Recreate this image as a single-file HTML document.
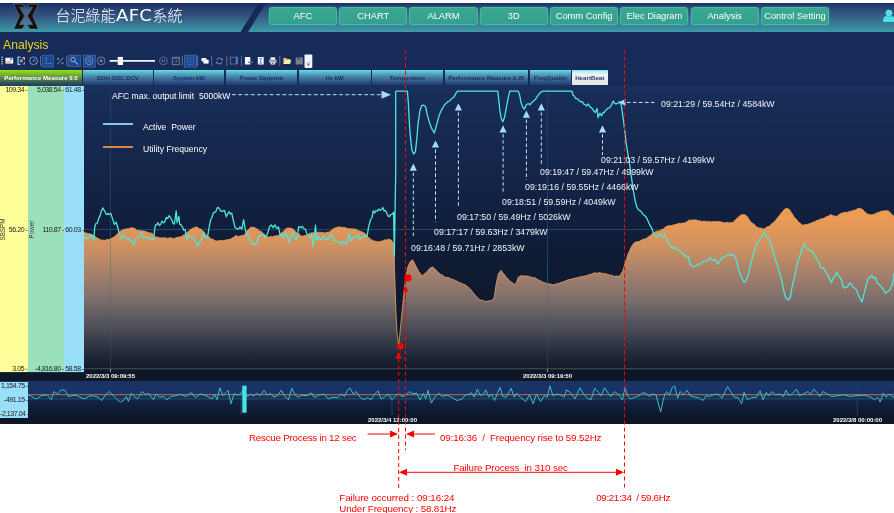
<!DOCTYPE html>
<html><head><meta charset="utf-8"><title>台泥綠能AFC系統</title>
<style>
html,body{margin:0;padding:0;background:#fff}
body{width:894px;height:513px;position:relative;overflow:hidden;font-family:"Liberation Sans", sans-serif}
div{position:absolute;box-sizing:border-box;white-space:nowrap}
#app{left:0;top:3px;width:894px;height:420.5px;background:#162b58}
#hdr{left:0;top:0;width:894px;height:29px;background:linear-gradient(#1a2c60 0%,#24396b 12%,#33547f 45%,#398099 80%,#3a9aa8 100%)}
#hdr2{left:244px;top:0;width:650px;height:29px;background:linear-gradient(#1c3062 0%,#2a4473 14%,#376188 48%,#3a869d 82%,#3b9ca9 100%);clip-path:polygon(19px 0,100% 0,100% 100%,0 100%)}
#slant{left:240px;top:0;width:27px;height:29px;background:#162a58;clip-path:polygon(18.5px 0,26px 0,8px 100%,0.5px 100%)}
#title{left:55.5px;top:1.3px;height:24px;line-height:24px;color:#fff;font-size:15px;font-weight:300;font-family:"Liberation Sans","Noto Sans CJK TC",sans-serif;letter-spacing:0}
#title b{display:inline-block;font-weight:400;font-family:"DejaVu Sans","Liberation Sans",sans-serif;font-size:15.5px;line-height:20px;letter-spacing:0.2px;margin-left:0.8px;margin-right:5.3px;transform:scaleX(1.17);transform-origin:left center}
.nav{top:4px;width:68.2px;height:18px;line-height:16px;text-align:center;color:#fff;font-size:9.3px;background:linear-gradient(#39a792,#34a08d);border:1px solid #48b9a3;border-radius:2.5px;box-shadow:0 0 2.5px rgba(70,200,180,.45)}
#ana{left:3px;top:33.5px;color:#ecd61c;font-size:12.2px;line-height:16px}
.tab{top:66.5px;height:16.1px;line-height:16px;text-align:center;font-size:6px;font-weight:bold;color:#1a2f5e;background:linear-gradient(#66e0ea 0%,#5cc4d6 10%,#4f9ab8 30%,#3f6f9a 55%,#2a4c7c 80%,#1e3866 100%)}
.tab.act{color:#fff;font-size:6.05px;background:linear-gradient(#90e21a 0%,#84cf22 12%,#6aa63a 35%,#4d7a4c 60%,#2f5156 82%,#1f3a5c 100%)}
.tab.hb{color:#2a3a68;background:linear-gradient(#6fe6ee 0%,#c4eff4 12%,#f1f2f6 30%,#e3e4ea 100%);font-size:6.2px}
#axY{left:0;top:82.7px;width:27.7px;height:286.8px;background:#ffff99}
#axG{left:27.7px;top:82.7px;width:36.5px;height:286.8px;background:#9ae0ba}
#axB{left:64.2px;top:82.7px;width:19.8px;height:286.8px;background:#9adff8}
.al{font-size:7px;letter-spacing:-0.45px;color:#1c1c1c;text-align:right;line-height:8px;height:8px}
.rot{font-size:6.3px;color:#333;transform:rotate(-90deg);transform-origin:center;line-height:7px;height:7px;width:30px;text-align:center}
#chart{left:84px;top:82px;width:810px;height:284px;background:linear-gradient(#19305e 0%,#172c56 6%,#15274c 24%,#122142 42%,#101d38 55%,#0c1422 100%)}
#xband{left:84px;top:366px;width:810px;height:12px;background:#0e1726}
#xband2{left:0;top:369.5px;width:84px;height:8.5px;background:#0e1726}
#mini{left:0;top:378px;width:894px;height:37px;background:linear-gradient(#1a3466 0%,#193163 44%,#14274c 46%,#0f1c34 75%,#0c1626 100%)}
#mband{left:0;top:415px;width:894px;height:5.5px;background:#0d1626}
#maxis{left:0;top:378.5px;width:28px;height:36px;background:#9adff8}
.xl{font-size:6px;font-weight:bold;color:#fff;line-height:8px}
.lab{font-size:8.77px;color:#eef3fb;line-height:12px;height:12px}
.leg{font-size:8.6px;color:#fff;line-height:12px}
.red{font-size:9.8px;color:#f00;line-height:12px}
svg{position:absolute;left:0;top:0}
</style></head><body>
<div id="app">
 <div id="hdr"></div><div id="hdr2"></div><div id="slant"></div>
 <div id="title">台泥綠能<b>AFC</b>系統</div>
 <div class="nav" style="left:268.8px">AFC</div><div class="nav" style="left:339.1px">CHART</div><div class="nav" style="left:409.4px">ALARM</div><div class="nav" style="left:479.7px">3D</div><div class="nav" style="left:550px">Comm Config</div><div class="nav" style="left:620.3px">Elec Diagram</div><div class="nav" style="left:690.6px">Analysis</div><div class="nav" style="left:760.9px">Control Setting</div>
 <div id="ana">Analysis</div>
 <div class="tab act" style="left:0px;width:82px">Performance Measure 0.5</div><div class="tab " style="left:83px;width:69.5px">SOH SOC DCV</div><div class="tab " style="left:154px;width:70px">System kW</div><div class="tab " style="left:225.5px;width:71.5px">Power Setpoint</div><div class="tab " style="left:298.5px;width:72px">Hz kW</div><div class="tab " style="left:372px;width:71px">Temperature</div><div class="tab " style="left:444.5px;width:83.7px">Performance Measure 0.25</div><div class="tab " style="left:529.8px;width:41.2px">FreqQuality</div><div class="tab hb" style="left:572px;width:35.5px">HeartBeat</div>
 <div id="chart"></div>
 <div id="axY"></div><div id="axG"></div><div id="axB"></div>
 <div id="xband"></div><div id="xband2"></div><div id="mini"></div><div id="mband"></div><div id="maxis"></div>
</div>
<div class="al" style="left:0;top:86px;width:27.5px">109.34 -</div>
<div class="al" style="left:28px;top:86px;width:36px">5,038.54 -</div>
<div class="al" style="left:60px;top:86px;width:24px">61.48 -</div>
<div class="al" style="left:0;top:225.6px;width:27.5px">56.20 -</div>
<div class="al" style="left:28px;top:225.6px;width:36px">110.87 -</div>
<div class="al" style="left:60px;top:225.6px;width:24px">60.03 -</div>
<div class="al" style="left:0;top:365px;width:27.5px">3.05 -</div>
<div class="al" style="left:28px;top:365px;width:36px">-4,816.80 -</div>
<div class="al" style="left:60px;top:365px;width:24px">58.58 -</div>
<div class="al" style="left:0;top:381.5px;width:28px">1,154.75 -</div>
<div class="al" style="left:0;top:395.5px;width:28px">-491.15 -</div>
<div class="al" style="left:0;top:409.5px;width:28px">-2,137.04 -</div>
<div class="rot" style="left:-13px;top:226px">SBSPM</div>
<div class="rot" style="left:16px;top:226px">Power</div>
<div class="xl" style="left:86px;top:372px">2022/3/3 09:09:55</div>
<div class="xl" style="left:523px;top:372px">2022/3/3 09:19:50</div>
<div class="xl" style="left:368px;top:416px">2022/3/4 12:00:00</div>
<div class="xl" style="left:833px;top:416px">2022/3/8 00:00:00</div>

<svg width="894" height="513" viewBox="0 0 894 513">
 <defs>
  <linearGradient id="ogr" gradientUnits="userSpaceOnUse" x1="0" y1="205" x2="0" y2="369">
   <stop offset="0" stop-color="#f39a4c"/>
   <stop offset="0.08" stop-color="#ec9a55"/>
   <stop offset="0.24" stop-color="#d2935f"/>
   <stop offset="0.42" stop-color="#a5806c"/>
   <stop offset="0.58" stop-color="#7c6e6b"/>
   <stop offset="0.70" stop-color="#58565d"/>
   <stop offset="0.76" stop-color="#4b4c56"/>
   <stop offset="0.82" stop-color="#383d4a"/>
   <stop offset="0.915" stop-color="#20283a"/>
   <stop offset="1" stop-color="#121a27"/>
  </linearGradient>
 </defs>

 <!-- logo -->
 <g>
  <path d="M20.3,8.6 H33.5 L26,15.9 Z M26,15.9 L33.2,24.8 H19.3 Z" fill="#4f86b8" opacity="0.45"/>
  <path d="M13.6,4.1 H22.2 L25.1,7.2 H19.6 L24.6,15.9 L19.6,24.6 H25.1 L22.2,29.1 H13.8 L19.4,15.9 Z" fill="#16110f" stroke="#b9cfe0" stroke-opacity="0.55" stroke-width="0.5"/>
  <path d="M38.5,4.1 H29.9 L27,7.2 H32.5 L27.5,15.9 L32.5,24.6 H27 L29.9,29.1 H38.3 L32.7,15.9 Z" fill="#16110f" stroke="#b9cfe0" stroke-opacity="0.55" stroke-width="0.5"/>
  <rect x="24.3" y="15" width="1.2" height="1.8" fill="#e0302a"/><rect x="26.6" y="15" width="1.2" height="1.8" fill="#e0302a"/>
 </g>
 <!-- user icon -->
 <g fill="#4de4e8"><circle cx="888.9" cy="13.1" r="3.4"/><path d="M883,22 q0,-5.5 3.2,-6 q2.7,1.6 5.4,0 q3.2,0.5 3.2,6 z"/></g>
 <!-- toolbar -->
 <g>
  <g fill="#c9d2e6"><rect x="1.4" y="56.6" width="1.4" height="1.3"/><rect x="1.4" y="58.8" width="1.4" height="1.3"/><rect x="1.4" y="61" width="1.4" height="1.3"/><rect x="1.4" y="63.2" width="1.4" height="1.3"/></g>
  <rect x="5.4" y="57.8" width="7.8" height="5.8" fill="#fbfbfb"/><path d="M6.3,62 H11" stroke="#e89a30" stroke-width="1"/><path d="M10,60.2 L12.8,57.6" stroke="#3a78d0" stroke-width="1.3"/>
  <path d="M20.6,57.2 H18 V64.3 H20.6" fill="none" stroke="#8fc0f0" stroke-width="1.3"/><path d="M21.6,57 H25 V60.4 L21.6,57 Z" fill="#f0a848"/><rect x="19.8" y="59.3" width="3" height="3" fill="#8d98ae"/><path d="M22.6,64.4 H25 V61.4 Z" fill="#b9a890"/>
  <circle cx="33.5" cy="60.7" r="3.9" fill="none" stroke="#8a96b4" stroke-width="1"/><path d="M32.8,61.6 L35,59" stroke="#4d8ae0" stroke-width="1.2"/><path d="M35.5,63.5 l1.6,0.6 l-0.2,-1.8 z" fill="#8a96b4"/>
  <path d="M40.5,56 V66" stroke="#5f7096" stroke-width="1"/>
  <rect x="42.3" y="55.2" width="11.3" height="11.8" fill="#1b4791" stroke="#4668a8" stroke-width="0.8"/>
  <path d="M46,64.2 V58 M46,63.6 H51" stroke="#5a8fd8" stroke-width="0.8" fill="none" stroke-dasharray="1.6,0.8"/><path d="M46,57 l1,1.5 h-2 z M51.8,63.6 l-1.5,-1 v2 z" fill="#6a9ce0"/>
  <path d="M57.3,64.3 L63.2,57.7" stroke="#8f9ab4" stroke-width="1"/><rect x="57.2" y="57.8" width="1.8" height="1.8" fill="#6d96d8"/><rect x="61.6" y="62.4" width="1.8" height="1.8" fill="#6d96d8"/>
  <path d="M66.7,56 V66" stroke="#5f7096" stroke-width="1"/>
  <rect x="68.3" y="55.2" width="12.2" height="11.3" fill="#1b4791" stroke="#4668a8" stroke-width="0.8"/>
  <circle cx="73" cy="59.6" r="2.3" fill="none" stroke="#93acd4" stroke-width="1"/><path d="M74.7,61.4 L78,64.5" stroke="#93acd4" stroke-width="1.1"/>
  <rect x="83.3" y="55.2" width="12" height="11.8" fill="#1b4791" stroke="#4668a8" stroke-width="0.8"/>
  <circle cx="89.2" cy="60.8" r="3.9" fill="none" stroke="#7f92bc" stroke-width="0.9"/><path d="M88.1,58.8 V62.8 M90.3,58.8 V62.8" stroke="#4f86dc" stroke-width="1.1"/>
  <circle cx="101.1" cy="60.8" r="3.9" fill="none" stroke="#7c86a8" stroke-width="0.9"/><rect x="99.8" y="59.5" width="2.6" height="2.6" fill="#4f86dc"/>
  <path d="M109.6,60.8 H155" stroke="#f4f6fb" stroke-width="1.8"/><rect x="117.7" y="56.9" width="5.3" height="8.1" fill="#f6f6f6"/>
  <circle cx="163.4" cy="60.8" r="3.9" fill="none" stroke="#6a7498" stroke-width="0.9"/><path d="M162.3,59.3 V62.3 M164.5,59.3 V62.3 M162.3,60.8 H164.5" stroke="#3f74cc" stroke-width="1"/>
  <rect x="172.3" y="57.3" width="7" height="7.4" fill="#1a2c58" stroke="#7d8298" stroke-width="0.9"/><path d="M172,58 H179.6" stroke="#6d7288" stroke-width="1.4"/><path d="M175.8,59.5 V64 M172.8,61.8 H179" stroke="#2c4a84" stroke-width="0.6"/><rect x="176" y="60.4" width="1.1" height="1.1" fill="#b07850"/>
  <path d="M182.4,56 V66" stroke="#5f7096" stroke-width="1"/>
  <rect x="184.4" y="55.2" width="12" height="11.9" fill="#1b4791" stroke="#4668a8" stroke-width="0.8"/>
  <rect x="187.2" y="57.8" width="6.6" height="6.6" rx="1" fill="none" stroke="#3f72c4" stroke-width="0.8"/><path d="M190.5,59.4 V62.8 M189,61.1 H192" stroke="#3566b8" stroke-width="0.7"/>
  <path d="M197.6,56 V66" stroke="#5f7096" stroke-width="1"/>
  <rect x="201.4" y="57.9" width="5" height="3.6" rx="0.8" fill="#f4f6fb"/><rect x="203.4" y="59.8" width="5.2" height="3.8" rx="0.8" fill="#fff" stroke="#c9d2e6" stroke-width="0.4"/>
  <path d="M211.7,56 V66" stroke="#5f7096" stroke-width="1"/>
  <path d="M216.6,60.1 A3,3 0 0 1 222,59.5 M222.2,61.9 A3,3 0 0 1 216.8,62.5" fill="none" stroke="#6f9edc" stroke-width="1"/><path d="M222.9,58.2 v2.1 h-2.1 z M215.9,63.8 v-2.1 h2.1 z" fill="#6f9edc"/>
  <path d="M226.8,56 V66" stroke="#5f7096" stroke-width="1"/>
  <rect x="230.3" y="57.2" width="7.3" height="6.8" fill="none" stroke="#6d738c" stroke-width="0.9"/><rect x="235.6" y="57.2" width="2.2" height="6.8" fill="#4a78c4"/>
  <path d="M241.4,56 V66" stroke="#5f7096" stroke-width="1"/>
  <rect x="244.9" y="57" width="5.4" height="7.5" fill="#fbfbfd"/><path d="M248,62.3 H252.6" stroke="#4d84d4" stroke-width="1.3"/>
  <rect x="257.8" y="57" width="5.9" height="7.5" fill="#fbfbfd"/><path d="M259.3,58.4 H262.2 M259.3,63.1 H262.2 M260.75,58.4 V63.1" stroke="#3f7ad4" stroke-width="0.9"/>
  <rect x="269.1" y="59.3" width="7.5" height="4" rx="0.8" fill="#9ea4b4"/><rect x="270.6" y="57.3" width="4.5" height="2.4" fill="#f4f6fb"/><rect x="270.8" y="62" width="4.1" height="2.6" fill="#dfe6f4"/><rect x="272" y="62.6" width="1.7" height="1.4" fill="#4d84d4"/>
  <path d="M279.8,56 V66" stroke="#5f7096" stroke-width="1"/>
  <path d="M283.4,58 H286.2 L287,58.9 H290.2 V64 H283.4 Z" fill="#e9c878"/><path d="M283.6,64 L285,60.2 H291.3 L290,64 Z" fill="#fbeab8"/>
  <path d="M295.7,57.5 H301.6 L302.9,58.8 V64.5 H295.7 Z" fill="#7a8092"/><rect x="297.2" y="57.5" width="3.6" height="2.4" fill="#5c6276"/><rect x="300.8" y="56.9" width="1.2" height="1.2" fill="#4d84d4"/>
  <rect x="304.5" y="54.4" width="7.8" height="13.5" rx="0.8" fill="#eef2fd"/><path d="M306.9,63 H309.9" stroke="#555" stroke-width="0.6"/><path d="M306.9,64.2 h3 l-1.5,1.6 z" fill="#444"/>
 </g>
 <!-- grid -->
 <path d="M110.5,86 V369 M547.5,86 V369" stroke="#1a4066" stroke-width="1" fill="none"/>
 <path d="M84,229.5 H894" stroke="#1c4a68" stroke-width="1" fill="none"/>
 <!-- orange area -->
 <path d="M84,232.6 L85.3,232.8 L86.7,233.1 L88.1,233.7 L89.4,233.5 L91.2,234.4 L92.9,235.4 L94.4,235.9 L95.9,237.1 L97.4,238.1 L98.9,239.1 L100.4,239.4 L101.9,240.4 L103.2,240 L104.6,240.4 L106,240.1 L107.3,239.3 L108.7,239.6 L110.1,239.1 L111.6,238.3 L113,237.7 L114.4,236.8 L115.8,235.3 L117.1,234.4 L118.5,232.7 L119.8,231.4 L121.2,230.8 L122.5,229.9 L123.8,229.6 L125.2,228.9 L126.6,229 L128,228.5 L129.5,228.3 L130.9,227.9 L132.3,227.7 L133.7,228.1 L135,228.6 L136.3,229.8 L137.7,230.3 L139.1,230.6 L140.6,230.8 L142,230.8 L143.5,231.1 L144.9,231.5 L146.2,231.6 L147.6,232.5 L148.9,232.5 L150.2,233.2 L151.6,233.1 L152.9,233.9 L154.7,237.4 L156.1,236.8 L157.5,237.1 L158.9,237.9 L160.3,237.6 L161.7,238.2 L163.1,237.8 L164.5,237.6 L166,238.2 L167.5,238.4 L169,237.9 L170.5,237.8 L172,238.1 L173.5,238.7 L174.9,238.3 L176.3,237.5 L177.8,237.4 L179.2,237 L180.6,236.7 L181.9,236.5 L183.3,235 L184.7,234.5 L186,233.5 L187.3,232.1 L188.7,231.5 L190.1,229.8 L191.4,229.1 L192.8,228.1 L194.1,227.9 L195.5,227.2 L196.8,226.7 L198.1,228.1 L199.4,228.7 L200.8,229 L202.1,230.2 L203.6,231.4 L205.1,233.4 L206.6,235.6 L208.1,236.6 L209.6,237.3 L211.1,239.2 L212.4,239.1 L213.8,239.8 L215.1,240.8 L216.4,241 L217.8,240.9 L219.3,240.6 L220.7,240.5 L222.2,240.8 L223.6,240.4 L225,240.3 L226.5,239.8 L227.9,239.5 L229.4,239.6 L230.8,238.8 L232.1,238.1 L233.4,237.6 L234.8,236.3 L236.1,235.5 L237.4,236.3 L238.7,236.4 L240,236 L241.8,235.5 L243.6,235.5 L245.4,233.4 L247.2,230.5 L248.9,229.3 L250.7,227.2 L252.5,227.3 L254.3,227.5 L256.1,228.4 L257.9,229.5 L259.7,231.2 L261.5,231.5 L263.3,233.7 L265.1,235.1 L266.9,236.5 L268.6,237.2 L270,236.8 L271.3,236.5 L272.6,236.8 L274,236.1 L275.5,235.9 L277,235.8 L278.5,235.6 L280,234.2 L281.5,232.7 L283,232.1 L284.8,229.9 L286.5,228.2 L288.3,228.1 L290.1,228.1 L291.9,228.6 L293.7,229.6 L295.5,231.6 L297.3,233.6 L298.8,233.9 L300.2,234.9 L301.7,236.2 L303.2,236.1 L304.7,235.6 L306.2,235.5 L308,234.5 L309.8,233.2 L311.1,232.9 L312.5,232.6 L313.9,233.2 L315.2,232.8 L316.5,232.9 L317.9,232 L319.2,232.4 L320.5,232.2 L321.9,232.6 L323.2,232.4 L324.5,233.2 L325.9,232.5 L327.7,232.3 L329.5,231.9 L331.3,230.5 L333.1,228.8 L334.6,228.2 L336,227.7 L337.5,227.3 L339.1,226.8 L340.6,227.2 L342.2,227.5 L343.8,227.5 L345.1,227.5 L346.5,228.2 L347.9,228.6 L349.2,228.7 L350.5,228.8 L351.9,228.7 L353.2,229 L354.5,229.1 L355.9,229.1 L357.2,230 L358.5,230.8 L359.9,231.1 L361.2,231.7 L362.6,232 L363.9,233 L365.3,233.6 L366.6,235.2 L368,237.4 L369.5,237.9 L370.9,239.7 L372.4,240.2 L373.8,241 L375.1,241.2 L376.4,241.3 L377.8,242.1 L379.1,241.6 L380.5,241.4 L381.9,241.3 L383.2,240.4 L384.5,239.9 L385.9,239.8 L387.2,239.9 L388.5,239.1 L390.3,239.7 L392.1,241 L394,244.8 L394.7,275 L395.9,310.6 L397.1,333.4 L398.7,345.4 L401.1,321.6 L403.4,298.4 L405.7,277.7 L408.1,266.1 L410.4,261.4 L412.7,259.8 L415.1,264.7 L416.9,267.9 L418.6,271.3 L420.4,273.6 L422.1,275.9 L423.9,274.5 L425.6,272.9 L427.4,271.4 L429.1,269 L430.9,267.8 L432.6,266.9 L434.4,268.4 L436.1,270.1 L437.7,271.7 L439.2,273.3 L440.8,274.6 L442.4,275.2 L443.9,276.5 L445.5,277.4 L447.1,277.5 L448.6,277.7 L450.2,278.2 L451.8,279.5 L453.3,279.3 L454.9,280.4 L456.3,281 L457.8,281.6 L459.2,282.8 L460.7,282.9 L462.1,283.5 L463.6,284.4 L465.1,284.6 L466.5,285.9 L468.1,286.9 L469.6,288.4 L471.2,289.9 L472.8,292.3 L474.3,294.1 L475.9,296.2 L477.3,297.4 L478.6,298.6 L480,299.9 L481.5,300.3 L483,300.4 L484.5,301.3 L486,301.6 L487.7,301 L489.4,300.9 L491.1,300.7 L492.6,299.2 L494.1,298.3 L496.1,284.3 L498.5,273.5 L499.8,271.8 L501.1,270.4 L502.6,272.5 L504.2,274.2 L505.5,276.2 L506.9,278 L508.2,278.9 L509.5,280.9 L510.9,281.8 L512.2,282.5 L513.7,283.8 L515.2,284.9 L516.8,281.4 L518.3,277.2 L519.8,276.4 L521.3,275.6 L522.7,275.8 L524.1,276.1 L525.5,275.9 L526.9,276.2 L528.3,276 L529.6,276.8 L531,277.3 L532.3,277.4 L533.7,277.8 L535,277.7 L536.4,278.7 L537.9,279.6 L539.4,280.5 L540.9,281 L542.4,282.2 L543.9,282.3 L545.5,283.3 L547,283.8 L548.5,283.9 L550.2,283.9 L551.8,284.5 L553.5,284.8 L554.9,284.6 L556.3,284 L557.7,283.2 L559.1,283.5 L560.5,282.4 L561.9,282.6 L563.2,281.5 L564.5,281.2 L565.9,281.1 L567.2,280.1 L568.6,279.6 L570.1,279.4 L571.6,279.1 L573.1,278.7 L574.6,278.1 L576,278.1 L577.3,277.5 L578.7,277.7 L580,276.7 L581.4,276.6 L582.7,276.7 L584.2,276 L585.7,275.9 L587.2,275.3 L588.7,274.7 L590.2,274.6 L591.8,273.9 L593.3,273.2 L594.8,272.8 L596.3,273.2 L597.8,273.2 L599.3,272.5 L600.8,273 L602.1,273.5 L603.5,273.4 L604.8,273.8 L606.2,273.8 L607.5,274.4 L608.9,274.7 L610.4,275.2 L611.9,275.1 L613.4,276.3 L614.9,276.3 L616.6,276.1 L618.2,276.3 L619.9,276 L621.5,273.1 L623,270.5 L625,263.8 L626.5,259.2 L628,254.1 L629.5,251.1 L631,247.5 L632.5,244.9 L634,243.1 L635.7,242.1 L637.4,241.7 L639.1,241.4 L640,241 L641.4,240.1 L642.7,239.5 L644,239 L645.4,238.9 L646.7,238.3 L648,236.7 L649.4,236.4 L650.7,234.9 L652.2,233.8 L653.7,232.7 L655.2,231.9 L656.7,231.2 L658.2,231 L659.7,230.9 L661.5,229.5 L663.3,229.2 L665,227.3 L666.8,226.3 L668.1,225.9 L669.5,225.6 L670.9,225.7 L672.2,225.3 L673.6,224.9 L675.1,224.6 L676.5,224.3 L678,223.7 L679.4,223.3 L680.7,223.5 L682,223.3 L683.4,223 L684.7,223 L686.2,221.9 L687.7,221.3 L689.2,219.9 L690.7,220.2 L692.2,220.1 L693.7,220.1 L695.1,219.8 L696.6,220.1 L698,220.9 L699.5,220.5 L700.9,221.4 L702.3,221.5 L703.7,221 L705.2,221.2 L706.6,221.8 L708,221.6 L709.4,221.4 L710.9,222 L712.3,221.5 L713.8,221.8 L715.2,221.2 L716.6,221.6 L718,221.9 L719.5,221.5 L720.9,221.8 L722.3,222.4 L723.7,222.7 L725.2,222.8 L726.6,222.2 L728.1,222.6 L729.5,222.9 L731.3,222.5 L733.1,222.4 L734.6,220.6 L736,219.2 L737.5,217.9 L739.3,216.2 L741.1,215 L742.5,214.7 L743.8,214.4 L745.1,214.9 L746.5,215.8 L747.9,217.5 L749.2,219.7 L750.5,221.5 L751.9,223.1 L753.2,223.5 L754.6,224.6 L755.9,226.5 L757.3,227.2 L758.8,227.9 L760.4,227.9 L762,228.5 L763.5,229 L764.9,228.3 L766.2,227.7 L767.5,226.5 L768.9,226.5 L770.2,225.5 L771.6,223.8 L772.9,222.9 L774.3,222 L775.6,220.2 L777,218.4 L778.3,216.8 L779.6,215.6 L781.1,213.1 L782.6,211.8 L784.1,209.6 L785.5,208.8 L786.8,208.2 L788.1,208.9 L789.5,209.6 L791,212.1 L792.5,214.2 L794,216.9 L795.5,218.5 L796.9,219.8 L798.4,222.2 L799.9,223.1 L801.4,224.3 L802.9,225.4 L804.5,224.6 L806,224.7 L807.6,224.3 L809.2,223.8 L810.6,223.3 L812,222.8 L813.5,222 L814.9,221.7 L816.3,220.6 L817.7,220.3 L819.2,219.9 L820.6,218.9 L822.1,218.7 L823.5,218.4 L824.9,217.7 L826.3,216.6 L827.8,216.5 L829.2,215.6 L830.6,214.6 L832,215.3 L833.3,215.7 L834.6,216.1 L836,216.4 L837.4,216 L838.7,214.8 L840,214 L841.4,213.1 L842.8,213.2 L844.2,212.1 L845.7,212.5 L847.1,212.4 L848.5,211.8 L849.9,211.6 L851.4,210.9 L852.8,210.6 L854.3,210.4 L855.7,209.8 L857.5,208.8 L859.3,208.3 L861.1,208.8 L862.9,209.7 L864.4,211.5 L865.8,212.5 L867.3,214.2 L868.8,214.3 L870.3,214.9 L871.8,214.6 L873.1,214.6 L874.5,214.2 L875.9,213 L877.2,213.3 L878.5,212.1 L879.9,212 L881.2,211.3 L882.5,211.1 L883.9,211.1 L885.2,210.5 L886.5,211.2 L887.9,210.6 L889.7,212.3 L891.5,213.9 L894,216.4 L894,369 L84,369 Z" fill="url(#ogr)"/>
 <path d="M84,232.6 L85.3,232.8 L86.7,233.1 L88.1,233.7 L89.4,233.5 L91.2,234.4 L92.9,235.4 L94.4,235.9 L95.9,237.1 L97.4,238.1 L98.9,239.1 L100.4,239.4 L101.9,240.4 L103.2,240 L104.6,240.4 L106,240.1 L107.3,239.3 L108.7,239.6 L110.1,239.1 L111.6,238.3 L113,237.7 L114.4,236.8 L115.8,235.3 L117.1,234.4 L118.5,232.7 L119.8,231.4 L121.2,230.8 L122.5,229.9 L123.8,229.6 L125.2,228.9 L126.6,229 L128,228.5 L129.5,228.3 L130.9,227.9 L132.3,227.7 L133.7,228.1 L135,228.6 L136.3,229.8 L137.7,230.3 L139.1,230.6 L140.6,230.8 L142,230.8 L143.5,231.1 L144.9,231.5 L146.2,231.6 L147.6,232.5 L148.9,232.5 L150.2,233.2 L151.6,233.1 L152.9,233.9 L154.7,237.4 L156.1,236.8 L157.5,237.1 L158.9,237.9 L160.3,237.6 L161.7,238.2 L163.1,237.8 L164.5,237.6 L166,238.2 L167.5,238.4 L169,237.9 L170.5,237.8 L172,238.1 L173.5,238.7 L174.9,238.3 L176.3,237.5 L177.8,237.4 L179.2,237 L180.6,236.7 L181.9,236.5 L183.3,235 L184.7,234.5 L186,233.5 L187.3,232.1 L188.7,231.5 L190.1,229.8 L191.4,229.1 L192.8,228.1 L194.1,227.9 L195.5,227.2 L196.8,226.7 L198.1,228.1 L199.4,228.7 L200.8,229 L202.1,230.2 L203.6,231.4 L205.1,233.4 L206.6,235.6 L208.1,236.6 L209.6,237.3 L211.1,239.2 L212.4,239.1 L213.8,239.8 L215.1,240.8 L216.4,241 L217.8,240.9 L219.3,240.6 L220.7,240.5 L222.2,240.8 L223.6,240.4 L225,240.3 L226.5,239.8 L227.9,239.5 L229.4,239.6 L230.8,238.8 L232.1,238.1 L233.4,237.6 L234.8,236.3 L236.1,235.5 L237.4,236.3 L238.7,236.4 L240,236 L241.8,235.5 L243.6,235.5 L245.4,233.4 L247.2,230.5 L248.9,229.3 L250.7,227.2 L252.5,227.3 L254.3,227.5 L256.1,228.4 L257.9,229.5 L259.7,231.2 L261.5,231.5 L263.3,233.7 L265.1,235.1 L266.9,236.5 L268.6,237.2 L270,236.8 L271.3,236.5 L272.6,236.8 L274,236.1 L275.5,235.9 L277,235.8 L278.5,235.6 L280,234.2 L281.5,232.7 L283,232.1 L284.8,229.9 L286.5,228.2 L288.3,228.1 L290.1,228.1 L291.9,228.6 L293.7,229.6 L295.5,231.6 L297.3,233.6 L298.8,233.9 L300.2,234.9 L301.7,236.2 L303.2,236.1 L304.7,235.6 L306.2,235.5 L308,234.5 L309.8,233.2 L311.1,232.9 L312.5,232.6 L313.9,233.2 L315.2,232.8 L316.5,232.9 L317.9,232 L319.2,232.4 L320.5,232.2 L321.9,232.6 L323.2,232.4 L324.5,233.2 L325.9,232.5 L327.7,232.3 L329.5,231.9 L331.3,230.5 L333.1,228.8 L334.6,228.2 L336,227.7 L337.5,227.3 L339.1,226.8 L340.6,227.2 L342.2,227.5 L343.8,227.5 L345.1,227.5 L346.5,228.2 L347.9,228.6 L349.2,228.7 L350.5,228.8 L351.9,228.7 L353.2,229 L354.5,229.1 L355.9,229.1 L357.2,230 L358.5,230.8 L359.9,231.1 L361.2,231.7 L362.6,232 L363.9,233 L365.3,233.6 L366.6,235.2 L368,237.4 L369.5,237.9 L370.9,239.7 L372.4,240.2 L373.8,241 L375.1,241.2 L376.4,241.3 L377.8,242.1 L379.1,241.6 L380.5,241.4 L381.9,241.3 L383.2,240.4 L384.5,239.9 L385.9,239.8 L387.2,239.9 L388.5,239.1 L390.3,239.7 L392.1,241 L394,244.8 L394.7,275 L395.9,310.6 L397.1,333.4 L398.7,345.4 L401.1,321.6 L403.4,298.4 L405.7,277.7 L408.1,266.1 L410.4,261.4 L412.7,259.8 L415.1,264.7 L416.9,267.9 L418.6,271.3 L420.4,273.6 L422.1,275.9 L423.9,274.5 L425.6,272.9 L427.4,271.4 L429.1,269 L430.9,267.8 L432.6,266.9 L434.4,268.4 L436.1,270.1 L437.7,271.7 L439.2,273.3 L440.8,274.6 L442.4,275.2 L443.9,276.5 L445.5,277.4 L447.1,277.5 L448.6,277.7 L450.2,278.2 L451.8,279.5 L453.3,279.3 L454.9,280.4 L456.3,281 L457.8,281.6 L459.2,282.8 L460.7,282.9 L462.1,283.5 L463.6,284.4 L465.1,284.6 L466.5,285.9 L468.1,286.9 L469.6,288.4 L471.2,289.9 L472.8,292.3 L474.3,294.1 L475.9,296.2 L477.3,297.4 L478.6,298.6 L480,299.9 L481.5,300.3 L483,300.4 L484.5,301.3 L486,301.6 L487.7,301 L489.4,300.9 L491.1,300.7 L492.6,299.2 L494.1,298.3 L496.1,284.3 L498.5,273.5 L499.8,271.8 L501.1,270.4 L502.6,272.5 L504.2,274.2 L505.5,276.2 L506.9,278 L508.2,278.9 L509.5,280.9 L510.9,281.8 L512.2,282.5 L513.7,283.8 L515.2,284.9 L516.8,281.4 L518.3,277.2 L519.8,276.4 L521.3,275.6 L522.7,275.8 L524.1,276.1 L525.5,275.9 L526.9,276.2 L528.3,276 L529.6,276.8 L531,277.3 L532.3,277.4 L533.7,277.8 L535,277.7 L536.4,278.7 L537.9,279.6 L539.4,280.5 L540.9,281 L542.4,282.2 L543.9,282.3 L545.5,283.3 L547,283.8 L548.5,283.9 L550.2,283.9 L551.8,284.5 L553.5,284.8 L554.9,284.6 L556.3,284 L557.7,283.2 L559.1,283.5 L560.5,282.4 L561.9,282.6 L563.2,281.5 L564.5,281.2 L565.9,281.1 L567.2,280.1 L568.6,279.6 L570.1,279.4 L571.6,279.1 L573.1,278.7 L574.6,278.1 L576,278.1 L577.3,277.5 L578.7,277.7 L580,276.7 L581.4,276.6 L582.7,276.7 L584.2,276 L585.7,275.9 L587.2,275.3 L588.7,274.7 L590.2,274.6 L591.8,273.9 L593.3,273.2 L594.8,272.8 L596.3,273.2 L597.8,273.2 L599.3,272.5 L600.8,273 L602.1,273.5 L603.5,273.4 L604.8,273.8 L606.2,273.8 L607.5,274.4 L608.9,274.7 L610.4,275.2 L611.9,275.1 L613.4,276.3 L614.9,276.3 L616.6,276.1 L618.2,276.3 L619.9,276 L621.5,273.1 L623,270.5 L625,263.8 L626.5,259.2 L628,254.1 L629.5,251.1 L631,247.5 L632.5,244.9 L634,243.1 L635.7,242.1 L637.4,241.7 L639.1,241.4 L640,241 L641.4,240.1 L642.7,239.5 L644,239 L645.4,238.9 L646.7,238.3 L648,236.7 L649.4,236.4 L650.7,234.9 L652.2,233.8 L653.7,232.7 L655.2,231.9 L656.7,231.2 L658.2,231 L659.7,230.9 L661.5,229.5 L663.3,229.2 L665,227.3 L666.8,226.3 L668.1,225.9 L669.5,225.6 L670.9,225.7 L672.2,225.3 L673.6,224.9 L675.1,224.6 L676.5,224.3 L678,223.7 L679.4,223.3 L680.7,223.5 L682,223.3 L683.4,223 L684.7,223 L686.2,221.9 L687.7,221.3 L689.2,219.9 L690.7,220.2 L692.2,220.1 L693.7,220.1 L695.1,219.8 L696.6,220.1 L698,220.9 L699.5,220.5 L700.9,221.4 L702.3,221.5 L703.7,221 L705.2,221.2 L706.6,221.8 L708,221.6 L709.4,221.4 L710.9,222 L712.3,221.5 L713.8,221.8 L715.2,221.2 L716.6,221.6 L718,221.9 L719.5,221.5 L720.9,221.8 L722.3,222.4 L723.7,222.7 L725.2,222.8 L726.6,222.2 L728.1,222.6 L729.5,222.9 L731.3,222.5 L733.1,222.4 L734.6,220.6 L736,219.2 L737.5,217.9 L739.3,216.2 L741.1,215 L742.5,214.7 L743.8,214.4 L745.1,214.9 L746.5,215.8 L747.9,217.5 L749.2,219.7 L750.5,221.5 L751.9,223.1 L753.2,223.5 L754.6,224.6 L755.9,226.5 L757.3,227.2 L758.8,227.9 L760.4,227.9 L762,228.5 L763.5,229 L764.9,228.3 L766.2,227.7 L767.5,226.5 L768.9,226.5 L770.2,225.5 L771.6,223.8 L772.9,222.9 L774.3,222 L775.6,220.2 L777,218.4 L778.3,216.8 L779.6,215.6 L781.1,213.1 L782.6,211.8 L784.1,209.6 L785.5,208.8 L786.8,208.2 L788.1,208.9 L789.5,209.6 L791,212.1 L792.5,214.2 L794,216.9 L795.5,218.5 L796.9,219.8 L798.4,222.2 L799.9,223.1 L801.4,224.3 L802.9,225.4 L804.5,224.6 L806,224.7 L807.6,224.3 L809.2,223.8 L810.6,223.3 L812,222.8 L813.5,222 L814.9,221.7 L816.3,220.6 L817.7,220.3 L819.2,219.9 L820.6,218.9 L822.1,218.7 L823.5,218.4 L824.9,217.7 L826.3,216.6 L827.8,216.5 L829.2,215.6 L830.6,214.6 L832,215.3 L833.3,215.7 L834.6,216.1 L836,216.4 L837.4,216 L838.7,214.8 L840,214 L841.4,213.1 L842.8,213.2 L844.2,212.1 L845.7,212.5 L847.1,212.4 L848.5,211.8 L849.9,211.6 L851.4,210.9 L852.8,210.6 L854.3,210.4 L855.7,209.8 L857.5,208.8 L859.3,208.3 L861.1,208.8 L862.9,209.7 L864.4,211.5 L865.8,212.5 L867.3,214.2 L868.8,214.3 L870.3,214.9 L871.8,214.6 L873.1,214.6 L874.5,214.2 L875.9,213 L877.2,213.3 L878.5,212.1 L879.9,212 L881.2,211.3 L882.5,211.1 L883.9,211.1 L885.2,210.5 L886.5,211.2 L887.9,210.6 L889.7,212.3 L891.5,213.9 L894,216.4" fill="none" stroke="#e8a060" stroke-width="0.8"/>
 <path d="M110.5,232 V369 M547.5,262 V369" stroke="#2a6a80" stroke-opacity="0.35" stroke-width="1" fill="none"/>
 <path d="M84,368.8 H894" stroke="#4c5258" stroke-width="1" fill="none"/>
 <path d="M110.5,369 V372 M547.5,369 V372" stroke="#8a96a0" stroke-width="1" fill="none"/>
 <!-- cyan power line -->
 <path d="M84,238.8 L85.2,237.3 L86.4,238.5 L87.6,237.6 L88.7,238 L89.8,237.7 L91,234.7 L92.1,234.9 L93.8,240.6 L94.7,227 L96.1,223.3 L97.4,223.2 L98.8,218.1 L100.1,215.6 L101.4,211 L102.8,207.9 L104.6,211 L105.7,213.1 L106.8,214.6 L108,213.5 L109.1,214.5 L110.8,213.4 L112.6,218.9 L114.4,224.3 L116.2,222.1 L118,228.5 L119.8,234.9 L121.6,239 L122.9,236.1 L124.3,235 L125.7,237.5 L127,237.7 L128.2,239.9 L129.3,238.4 L130.5,240.5 L131.7,240.6 L132.9,244.1 L134.1,244.3 L135.3,239.7 L136.5,238.1 L137.7,237.2 L139.5,236.6 L141.3,232.4 L143.1,237.4 L144.4,236.6 L145.7,238 L146.9,237.5 L148,237.3 L149.2,238.4 L150.3,238.4 L151.5,239.9 L152.6,238.8 L153.8,239.2 L154.7,228.2 L155.6,225 L156.8,224.7 L158,222.7 L159.2,225.5 L160.6,224.4 L161.9,221.2 L163.6,222.9 L164.9,221.5 L166.3,217.5 L167.7,218.5 L169,215.8 L170.3,217.3 L171.7,219.8 L173.1,223.5 L174.4,224.1 L176.2,210.9 L177.1,222.6 L178.9,216.3 L179.7,224.4 L181.1,224.9 L182.4,227 L183.8,230.3 L185.1,229.5 L186.9,240 L188.2,235.4 L189.6,235.9 L191.4,236.6 L193.2,236.4 L195,241 L196.3,242.4 L197.6,246.5 L198.9,242.9 L200.3,241.2 L201.7,238.9 L203,233.1 L204.8,237.2 L206.2,237.1 L207.5,237.4 L209.3,226.3 L210.7,219.7 L212,217.5 L213.3,212.9 L214.6,212.4 L215.8,211.7 L217,208.1 L218.2,207.4 L219.4,208.8 L220.6,210.6 L221.8,211.4 L223.2,210.9 L224.5,210.5 L226.3,216.8 L227.7,213.8 L229,211.8 L230.3,213.9 L231.7,213.1 L233.4,220.5 L234.8,226.7 L236.1,228.2 L237.4,229.2 L238.8,228.6 L240,227 L241.8,229.2 L243.6,219.7 L245.4,230.2 L247.2,235.7 L248.5,235.5 L249.8,240.1 L251.2,241.5 L252.5,244.2 L253.8,243.3 L255.2,244.8 L256.5,243 L257.9,238.4 L259.2,235.5 L260.6,235.8 L262.4,234.8 L263.8,234.6 L265.1,237.9 L266.4,236.2 L267.7,233 L269.5,226.8 L271.3,224.9 L273.1,227.7 L274.9,224.8 L276.7,228.4 L278.5,226.9 L280.3,236.1 L281.6,234.5 L283,238.2 L284.3,236.8 L285.6,233 L287.4,236.3 L289.2,242.3 L291,235.5 L292.8,232.6 L294.6,237.8 L296,239.3 L297.3,237.7 L298.7,226.7 L300.9,227.6 L302.3,226.3 L304.1,228.8 L305.3,229.1 L307.1,234.4 L308.5,235.4 L309.8,237.5 L311.6,234.6 L313,246 L314.3,237.2 L315.5,225.1 L316.6,239.7 L318.7,236.2 L320,239.4 L321.4,239.7 L322.8,236.5 L324.1,236.5 L325.5,239.4 L326.8,239.2 L328.1,239.4 L329.5,236.7 L330.9,234.9 L332.2,235.6 L334,240.5 L335.3,239.7 L336.6,241.5 L337.8,241.7 L339,241.9 L340.2,242.2 L341.4,244.6 L342.6,241.4 L343.8,241.9 L345,244.4 L346.2,243.2 L347.4,241.9 L349.2,233.3 L351,240.9 L352.8,237.4 L354.5,238 L356.3,236 L358.1,234.4 L359.9,239.2 L361.7,237.7 L363.1,236.6 L364.4,236.9 L365.8,236.3 L367.1,236.4 L368.5,227.4 L370.6,219.5 L372,217.5 L373.3,210.7 L374.6,213 L376,210.7 L377.4,211 L378.7,209 L380,210.4 L381.4,209.5 L382.8,207.5 L384.1,210.9 L385.5,210.5 L386.8,213.2 L388.1,215.9 L389.4,216.6 L390.8,214.3 L392.1,214.1 L393.6,212.3 L394.3,255.9 L395.7,174 L395.7,91.3 L396.9,91.2 L398,91.2 L399.2,91.2 L400.4,91.2 L401.5,91.2 L402.7,91.2 L403.9,91.2 L405.1,91.2 L406.2,91.2 L407.4,91.2 L408.3,102.1 L409.2,119.7 L410.1,134.1 L411.8,149.4 L413.6,154 L415.4,151.9 L416.9,137.7 L418.1,123.4 L419.9,110.8 L421.7,105.5 L423.5,105.2 L424.6,105.8 L425.8,107.1 L427.1,114.2 L428.4,118.6 L429.7,123.2 L431,126.9 L432.4,129.8 L434.2,133 L436,127 L437.4,121.9 L438.7,117 L440,113.4 L441.4,110.1 L442.8,107.8 L444.1,105.4 L445.4,103.9 L446.7,102.7 L448,101.6 L449.4,101 L450.8,99.8 L452.1,98.2 L453.9,97.2 L455.7,93.6 L457.5,91.1 L458.6,91.2 L459.7,91.2 L460.9,91.2 L462,91.2 L463.1,91.2 L464.2,91.2 L465.3,91.2 L466.5,91.2 L467.6,91.2 L468.7,91.2 L469.8,91.2 L470.9,91.2 L472.1,91.2 L473.2,91.2 L474.3,91.2 L475.4,91.2 L476.5,91.2 L477.6,91.2 L478.8,91.2 L479.9,91.2 L481,91.2 L482.1,91.2 L483.2,91.2 L484.4,91.2 L485.5,91.2 L486.6,91.2 L487.7,91.2 L488.8,91.2 L490,91.2 L491.1,91.2 L492.2,91.2 L493.3,91.2 L494.4,91.2 L495.6,91.2 L496.7,91.2 L497.8,91.2 L498.6,98.1 L499.9,110.8 L501.3,118.7 L502.8,121.7 L504.6,116.9 L506.7,105.7 L508.5,96.3 L509.9,90.9 L511.1,91.2 L512.3,91.2 L513.5,91.2 L514.7,91.2 L515.9,91.2 L517.1,91.2 L518.3,91.2 L519.6,94.9 L521,102.5 L522.8,107.4 L524.2,109.1 L526.4,104.7 L527.8,103.8 L529.1,103.8 L530,104.8 L531.4,102.9 L532.7,101.8 L534,100.6 L535.4,99.4 L536.8,97.2 L538.1,95.4 L539.4,93.6 L540.7,92.2 L542.5,91.3 L543.6,91.2 L544.7,91.2 L545.8,91.2 L546.9,91.2 L548.1,91.2 L549.2,91.2 L550.3,91.2 L551.4,91.2 L552.5,91.2 L553.6,91.2 L554.7,91.2 L555.8,91.2 L557,91.2 L558.1,91.2 L559.2,91.2 L560.3,91.2 L561.4,91.2 L562.5,91.2 L563.6,91.2 L564.7,91.2 L565.9,91.2 L567,91.2 L568.1,91.2 L569.2,91.2 L570.3,91.2 L572.1,91.5 L573,95.2 L574.3,96 L575.6,98.5 L577,98.6 L578.3,99.6 L579.6,101.1 L581,101.8 L582.4,101.7 L583.7,104.1 L585,104.3 L586.4,106.1 L588.2,103.9 L590,106.9 L591.3,107.8 L592.6,109.1 L594,111.2 L595.3,112.4 L597.1,108.5 L598,117.7 L599.8,113.2 L601.6,115.8 L603,112.4 L604.3,112.6 L605.6,110.3 L607,109.3 L608.3,108.1 L609.6,107.9 L611.4,105.2 L613.2,101.1 L615,103.7 L616.4,103.9 L617.7,103.4 L619.5,101.7 L621.3,105 L622.2,111.6 L623.4,119.7 L624.9,132.2 L626.3,144.9 L627.3,150.1 L629.2,161.7 L631.2,175.3 L633.1,189 L635.1,200.6 L637,207.4 L639,210.3 L640.5,210.8 L641.9,212.6 L643.3,214.6 L644.8,215.8 L646.3,217.3 L647.8,220.6 L649.7,224.8 L651.7,227.9 L653.6,234.1 L655.6,236.2 L657,236.6 L658.4,236 L659.7,233.3 L661,234.6 L662.4,236.3 L663.8,236.1 L665.1,234.7 L666.8,240.4 L668.1,242.7 L669.5,245.1 L670.9,245.9 L672.2,247.9 L673.5,248.3 L674.9,246.8 L676.2,248.8 L677.6,250 L679,250.5 L680.3,251.6 L681.6,252 L683,254.6 L684.3,255.8 L685.6,255.4 L687,257.2 L688.3,256.5 L690.1,264.2 L691.5,265.8 L692.8,266.4 L694.1,266.5 L695.5,265.9 L696.7,265.7 L697.9,264 L699.1,264.2 L700.3,264.2 L701.4,263 L702.6,262.1 L703.8,261 L705,261.5 L706.2,261 L707.4,260.4 L708.6,259.2 L709.8,257.7 L711.6,259.9 L712.8,260.3 L714,260 L715.2,259 L716.5,262.4 L717.9,264.1 L719.2,260.9 L720.5,259.9 L721.7,257.8 L722.9,257.3 L724.1,257 L725.3,256.3 L726.5,255.7 L727.7,255.2 L728.9,255.2 L730.1,255.2 L731.3,255.5 L732.6,254.6 L734,255.3 L735.3,258.2 L736.6,260.4 L738.4,268.7 L739.4,272.2 L740.8,275 L742.1,278.5 L743.4,281.4 L744.7,282.3 L746,280.3 L747.4,277.4 L748.8,272.9 L750.1,266.8 L751.5,261.3 L752.8,256.2 L754.1,251.7 L755.5,247.2 L757.3,242.2 L758.6,241.7 L760,239.2 L761.3,237 L762.6,234.8 L764.4,232.1 L766.2,237.4 L767.5,238.4 L768.9,238.4 L770.2,242.2 L771.6,246.8 L773,251.6 L774.3,255.8 L775.6,260.3 L777,264.4 L778.3,268.1 L779.6,273.2 L781,277.6 L782.3,283.1 L784.1,292.2 L785.9,298.3 L787.2,298.8 L788.6,300.1 L790.4,296.8 L792.2,286.2 L793.5,281.2 L794.9,275.6 L796.2,268.7 L797.5,262.5 L798.9,258.7 L800.2,254.7 L802,249.3 L803.4,246.8 L804.7,244 L806.5,249.1 L807.9,249.1 L809.2,249.7 L810.7,251.4 L812.1,251.3 L813.6,253.9 L815,256.2 L816.3,258.1 L817.6,260.3 L819,262.5 L820.8,267.5 L822.1,268.4 L823.5,268.2 L824.9,270.6 L826.2,272.6 L827.5,274.5 L828.9,276.9 L830.2,280.4 L831.5,282.7 L832.9,278.8 L834.2,277.2 L835.4,275.1 L836.6,272.4 L838.7,275.8 L840,277.7 L841.4,279.9 L843.2,286.7 L844.5,288 L845.9,287.4 L847.2,287 L848.5,285.1 L849.6,283.3 L850.7,283.5 L851.9,285.1 L853,287.2 L854.4,288 L855.7,288.8 L857,291.3 L858.4,295.1 L860.2,298.8 L862,301.9 L863.8,294.6 L865.5,287.9 L866.7,283.5 L867.9,279 L870,277.2 L871.8,275.5 L873.6,278.2 L875.4,277.3 L877.2,283.1 L878.5,284.4 L879.9,284.9 L881.2,286.5 L882.5,288.7 L883.9,290.4 L885.2,293 L886.5,292.8 L887.9,291.4 L889.7,289.9 L891.5,286.3 L893.3,280.7 L894,273.1" fill="none" stroke="#4fe6dc" stroke-width="1.3" stroke-linejoin="round"/>
 <!-- limit line -->
 <path d="M232,94.7 H381" stroke="#b4e2f8" stroke-width="1" stroke-dasharray="3.8,2.5" fill="none"/>
 <path d="M391,94.7 l-9.5,-4 v8 z" fill="#a6dcf7"/>
 <path d="M627,102.4 H655" stroke="#c8ecfb" stroke-width="1" stroke-dasharray="3.5,2.5" fill="none"/>
 <path d="M618.5,102.4 l7,-3.4 v6.8 z" fill="#a6dcf7"/>
 <path d="M413.3,163.6 l3.6,7.2 h-7.2 z" fill="#a6dcf7"/><path d="M413.3,172.6 V236" stroke="#bfe6fa" stroke-width="1" stroke-dasharray="3.5,2.5" fill="none"/><path d="M435.5,140.4 l3.6,7.2 h-7.2 z" fill="#a6dcf7"/><path d="M435.5,149.4 V222" stroke="#bfe6fa" stroke-width="1" stroke-dasharray="3.5,2.5" fill="none"/><path d="M458.4,103.3 l3.6,7.2 h-7.2 z" fill="#a6dcf7"/><path d="M458.4,112.3 V208" stroke="#bfe6fa" stroke-width="1" stroke-dasharray="3.5,2.5" fill="none"/><path d="M503.1,125.2 l3.6,7.2 h-7.2 z" fill="#a6dcf7"/><path d="M503.1,134.2 V194" stroke="#bfe6fa" stroke-width="1" stroke-dasharray="3.5,2.5" fill="none"/><path d="M526.4,110.5 l3.6,7.2 h-7.2 z" fill="#a6dcf7"/><path d="M526.4,119.5 V180" stroke="#bfe6fa" stroke-width="1" stroke-dasharray="3.5,2.5" fill="none"/><path d="M541.3,103.3 l3.6,7.2 h-7.2 z" fill="#a6dcf7"/><path d="M541.3,112.3 V166" stroke="#bfe6fa" stroke-width="1" stroke-dasharray="3.5,2.5" fill="none"/><path d="M602.5,125.2 l3.6,7.2 h-7.2 z" fill="#a6dcf7"/><path d="M602.5,134.2 V155" stroke="#bfe6fa" stroke-width="1" stroke-dasharray="3.5,2.5" fill="none"/>
 <!-- legend -->
 <path d="M103,124 H133" stroke="#8fe0f6" stroke-width="1.8"/>
 <path d="M103,147 H133" stroke="#f29340" stroke-width="1.8"/>
 <!-- mini chart -->
 <path d="M28,398.9 H894" stroke="#1d5a6e" stroke-width="1"/>
 <path d="M392,386 V415 M857.3,386 V415 M241,386 V415" stroke="#1c4468" stroke-width="1"/>
 <path d="M28,394.7 H894" stroke="#b87248" stroke-width="1"/>
 <path d="M28,394.7 L31.7,396.5 L35.4,398.9 L37.8,398.2 L41.5,395.7 L46.5,394.7 L51.4,399.7 L53.8,391.5 L57.5,394 L61.2,389.8 L64.9,390.3 L68.6,396.5 L72.3,395.7 L76,395.2 L79.7,397.2 L84.6,398.9 L88.3,396.5 L93.2,395.7 L98.1,397.2 L101.8,400.6 L105.5,394.7 L109.2,391.5 L112.9,395.2 L116.6,398.9 L120.3,402.1 L124,400.1 L126.4,396.5 L128.4,401.4 L131.3,393.3 L134.3,396.5 L137.5,398.9 L142.4,391.5 L145.6,394.7 L148.6,393.3 L153.5,399.7 L156,394 L159.6,397.2 L163.3,396.5 L167,399.7 L170.7,396.5 L175.6,395.7 L180.6,394 L185.5,396.5 L189.2,394 L191.6,392.8 L195.3,397.7 L200.2,394 L203.9,394.7 L208.9,397.2 L212.1,398.9 L214.5,394 L217,399.7 L219.9,387.8 L222.9,395.7 L225.6,392.8 L228,390.3 L231,403.8 L234.2,393.3 L237.2,395.2 L240.8,394 L243.3,389.1 L247,396.5 L248,395.7 L251,394 L253.4,396.5 L256.6,393.3 L260.3,395.7 L264,390.3 L267.2,395.2 L270.6,393.3 L273.8,397.2 L277.5,395.7 L281.2,390.3 L284.9,396.5 L288.6,399.7 L291.8,388.3 L295.2,395.2 L298.4,397.2 L302.1,395.2 L307.1,395.7 L311.5,392.8 L314.4,397.7 L319.4,394.7 L324.3,394 L328,398.9 L332.9,397.2 L337.8,397.7 L341.5,394 L344.5,396.5 L347.7,389.8 L350.1,388.3 L353.3,394 L356.3,391.5 L360,397.2 L363.6,399.7 L367.3,397.7 L371,399.7 L374.7,394 L377.9,390.8 L380.9,398.9 L384.6,397.2 L388.3,394 L391.9,399.7 L395.6,395.7 L398.6,393.3 L401.8,396.5 L405.5,395.7 L409.2,391.5 L412.9,394 L416.6,392.8 L420.2,400.1 L423.2,393.3 L425.7,398.9 L428.1,390.3 L431.3,403.1 L435,396.5 L438.7,393.3 L442.4,396.5 L447.3,395.2 L452.2,397.7 L457.2,400.6 L462.1,398.9 L465.8,394.7 L468,394.7 L471.7,392.8 L474.2,397.2 L477.4,389.1 L480.3,395.7 L483.3,394 L485.7,389.8 L488.9,397.2 L491.4,394 L494.6,400.6 L497.5,392.8 L500,387.4 L502.9,396.5 L506.1,397.2 L511.1,388.3 L514.3,397.2 L516.7,393.3 L520.9,397.7 L525.8,401.4 L529.5,394.7 L533.2,403.8 L536.4,394 L540.6,401.4 L544.3,395.7 L547.2,397.2 L549.9,385.9 L552.9,395.7 L556.6,394 L560.3,394.7 L564,397.2 L566.4,389.8 L570.1,392.3 L575,398.9 L580,387.8 L583.6,394 L587.3,398.2 L591,399.7 L594.7,388.3 L598.4,392.3 L600.9,395.7 L604.6,387.8 L608.3,393.3 L610.7,396.5 L614.4,391.5 L618.6,394.7 L622.5,400.1 L625,387.4 L627.4,395.7 L630.4,398.9 L635.3,397.2 L639,395.7 L643.2,392.3 L646.4,394 L649.6,396.5 L652.5,394 L656.2,395.2 L658.7,405.1 L660.7,412 L662.9,401.4 L664.9,394 L666.8,391.5 L669.3,395.2 L672.2,387.8 L674.7,385.9 L677.6,398.2 L680.1,391.5 L683.3,394.7 L687,390.3 L690,395.7 L694.9,397.2 L698.6,397.7 L703,400.6 L706,395.7 L709.7,396.5 L713.4,394.7 L717.8,394 L722,398.2 L725.2,391.5 L727.6,386.6 L731.1,392.3 L734.3,397.2 L738,397.7 L741.7,403.8 L744.1,392.3 L747.3,399.7 L751.5,397.7 L756.4,397.2 L760.1,390.8 L763.1,399.7 L766.3,392.3 L768.7,395.7 L771.9,391.5 L775.4,394.7 L779.8,394 L783.5,396.5 L786,390.3 L789.2,395.7 L792.6,393.3 L796.5,389.1 L799.5,395.7 L803.2,394 L808.1,391.5 L810.6,394.7 L813.8,389.1 L817.2,392.8 L819.7,396.5 L822.9,391.5 L827.8,394 L831.5,396.5 L837.6,395.7 L843.8,394.7 L849.9,396.5 L856.1,395.7 L863.5,395.2 L869.6,396.5 L874.5,399.7 L877.7,397.2 L880.2,402.1 L883.2,393.3 L886.1,397.2 L889.3,394 L894,397.7" fill="none" stroke="#3cc0c0" stroke-width="1"/>
 <rect x="242.3" y="385.7" width="4.3" height="27" fill="#45e4ea"/>
 <!-- red annotations -->
 <g stroke="#f00" stroke-width="1" fill="none" stroke-dasharray="4,3">
  <path d="M405.5,49.5 V450"/>
  <path d="M624.5,49.5 V489"/>
  <path d="M398.7,358 V488"/>
 </g>
 <circle cx="400.4" cy="346.4" r="3.2" fill="#f00"/>
 <circle cx="408" cy="277.9" r="3.6" fill="#f00"/>
 <path d="M398.7,352 l3,6.5 h-6 z M405.5,285.5 l3,6 h-6 z" fill="#f00"/>
 <path d="M405.5,292 V300" stroke="#f00" stroke-width="1"/>
 <g stroke="#f00" stroke-width="1" fill="none">
  <path d="M367.5,434 H392 M412,434 H435 M404,472.3 H618"/>
 </g>
 <path d="M398,434 l-8,-3.5 v7 z M406,434 l8,-3.5 v7 z M399,472.3 l8,-3.5 v7 z M624,472.3 l-8,-3.5 v7 z" fill="#f00"/>
</svg>
<div class="leg" style="left:143px;top:121px">Active&nbsp; Power</div>
<div class="leg" style="left:143px;top:143px">Utility Frequency</div>
<div class="leg" style="left:112px;top:90px">AFC max. output limit&nbsp; 5000kW</div>
<div class="lab" style="left:411px;top:242px">09:16:48 / 59.71Hz / 2853kW</div><div class="lab" style="left:434px;top:226px">09:17:17 / 59.63Hz / 3479kW</div><div class="lab" style="left:457px;top:211px">09:17:50 / 59.49Hz / 5026kW</div><div class="lab" style="left:502px;top:196px">09:18:51 / 59.59Hz / 4049kW</div><div class="lab" style="left:525px;top:181px">09:19:16 / 59.55Hz / 4466kW</div><div class="lab" style="left:540px;top:166px">09:19:47 / 59.47Hz / 4999kW</div><div class="lab" style="left:601px;top:154px">09:21:03 / 59.57Hz / 4199kW</div><div class="lab" style="left:661px;top:98px">09:21:29 / 59.54Hz / 4584kW</div>
<div class="red" style="left:249px;top:431.5px;letter-spacing:-0.24px">Rescue Process in 12 sec</div>
<div class="red" style="left:440px;top:431.5px;letter-spacing:-0.14px">09:16:36&nbsp; /&nbsp; Frequency rise to 59.52Hz</div>
<div class="red" style="left:453.4px;top:461.5px;letter-spacing:-0.14px">Failure Process&nbsp; in 310 sec</div>
<div class="red" style="left:339.3px;top:491.5px;letter-spacing:-0.07px">Failure occurred : 09:16:24</div>
<div class="red" style="left:339.3px;top:502.5px;letter-spacing:-0.14px">Under Frequency : 58.81Hz</div>
<div class="red" style="left:596.2px;top:491.5px;letter-spacing:-0.35px">09:21:34&nbsp; / 59.6Hz</div>
</body></html>
